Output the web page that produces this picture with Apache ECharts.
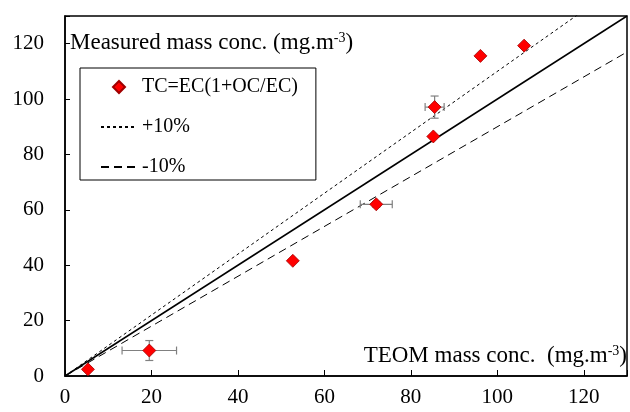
<!DOCTYPE html>
<html>
<head>
<meta charset="utf-8">
<script src="https://cdn.jsdelivr.net/npm/echarts@6/dist/echarts.min.js"></script>
<style>
  html, body { margin: 0; padding: 0; background: #fff; }
  #main { width: 630px; height: 412px; }
</style>
</head>
<body>
<div id="main"></div>
<script>
// TEOM vs measured (TC = EC(1+OC/EC))
var teom = [5.3, 19.5, 52.7, 72.0, 85.2, 85.5, 96.1, 106.2];
var measured = [2.4, 9.2, 41.6, 62.0, 86.5, 97.1, 115.6, 119.3];
var xErr = [0, 6.3, 0, 3.7, 0, 2.2, 0, 0];
var yErr = [0, 3.6, 0, 1.0, 0, 4.0, 0, 0];
var xTicks = [0, 20, 40, 60, 80, 100, 120];
var yTicks = [0, 20, 40, 60, 80, 100, 120];
var lineEnds = { one: [[0, 0], [130, 130]], plus: [[0, 0], [130, 143]], minus: [[0, 0], [130, 117]] };

var font = 'Liberation Serif';
var chart = echarts.init(document.getElementById('main'));

var pts = [];
for (var i = 0; i < teom.length; i++) {
    pts.push([teom[i], measured[i]]);
}
var errData = [];
for (var j = 0; j < teom.length; j++) {
    if (xErr[j] > 0 || yErr[j] > 0) {
        errData.push([teom[j], measured[j], xErr[j], yErr[j]]);
    }
}

var titleRich = {
    n: { fontFamily: font, fontSize: 23, fill: '#000' },
    s: { fontFamily: font, fontSize: 14, fill: '#000', verticalAlign: 'top', padding: [0, 0, 10, 0] }
};

chart.setOption({
    animation: false,
    grid: {
        left: 65, top: 16, right: -7, bottom: 36,
        show: true, borderColor: '#000', borderWidth: 1.5
    },
    xAxis: {
        type: 'value', min: 0, max: 130, interval: 20,
        splitLine: { show: false },
        axisLine: { lineStyle: { color: '#000', width: 1.5 } },
        axisTick: { inside: true, length: 6, lineStyle: { color: '#000' } },
        axisLabel: { color: '#000', fontFamily: font, fontSize: 21, margin: 11,
            formatter: function (v) { return xTicks.indexOf(v) >= 0 ? String(v) : ''; } }
    },
    yAxis: {
        type: 'value', min: 0, max: 130, interval: 20,
        splitLine: { show: false },
        axisLine: { lineStyle: { color: '#000', width: 1.5 } },
        axisTick: { inside: true, length: 5, lineStyle: { color: '#000' } },
        axisLabel: { color: '#000', fontFamily: font, fontSize: 21, margin: 21,
            formatter: function (v) { return yTicks.indexOf(v) >= 0 ? String(v) : ''; } }
    },
    legend: {
        orient: 'vertical',
        left: 80, top: 68,
        data: [
            { name: 'TC=EC(1+OC/EC)', icon: 'path://M5,0L10,5L5,10L0,5Z' },
            { name: '+10%' },
            { name: '-10%' }
        ],
        symbolKeepAspect: true,
        borderColor: '#000', borderWidth: 1,
        padding: [9, 18, 3, 20],
        itemWidth: 36, itemHeight: 12, itemGap: 20,
        textStyle: { color: '#000', fontFamily: font, fontSize: 20 }
    },
    graphic: [
        {
            type: 'text', left: 70, top: 31,
            style: { text: '{n|Measured mass conc. (mg.m}{s|-3}{n|)}', rich: titleRich }
        },
        {
            type: 'text', right: 3, top: 344,
            style: { text: '{n|TEOM mass conc.  (mg.m}{s|-3}{n|)}', rich: titleRich }
        }
    ],
    series: [
        {
            name: '1:1', type: 'line', data: lineEnds.one, symbol: 'none',
            lineStyle: { color: '#000', width: 1.5 }, z: 2
        },
        {
            name: '+10%', type: 'line', data: lineEnds.plus, symbol: 'none',
            itemStyle: { color: 'rgba(0,0,0,0)' },
            lineStyle: { color: '#000', width: 1, type: [3, 3] }, z: 2
        },
        {
            name: '-10%', type: 'line', data: lineEnds.minus, symbol: 'none',
            itemStyle: { color: 'rgba(0,0,0,0)' },
            lineStyle: { color: '#000', width: 1, type: [8, 5] }, z: 2
        },
        {
            name: 'err', type: 'custom', data: errData, z: 3,
            renderItem: function (params, api) {
                var x = api.value(0), y = api.value(1), dx = api.value(2), dy = api.value(3);
                var cap = 4;
                var style = { stroke: '#808080', lineWidth: 1.2 };
                var kids = [];
                if (dx > 0) {
                    var l = api.coord([x - dx, y]), r = api.coord([x + dx, y]);
                    kids.push({ type: 'line', shape: { x1: l[0], y1: l[1], x2: r[0], y2: r[1] }, style: style });
                    kids.push({ type: 'line', shape: { x1: l[0], y1: l[1] - cap, x2: l[0], y2: l[1] + cap }, style: style });
                    kids.push({ type: 'line', shape: { x1: r[0], y1: r[1] - cap, x2: r[0], y2: r[1] + cap }, style: style });
                }
                if (dy > 0) {
                    var t = api.coord([x, y + dy]), b = api.coord([x, y - dy]);
                    kids.push({ type: 'line', shape: { x1: t[0], y1: t[1], x2: b[0], y2: b[1] }, style: style });
                    kids.push({ type: 'line', shape: { x1: t[0] - cap, y1: t[1], x2: t[0] + cap, y2: t[1] }, style: style });
                    kids.push({ type: 'line', shape: { x1: b[0] - cap, y1: b[1], x2: b[0] + cap, y2: b[1] }, style: style });
                }
                return { type: 'group', children: kids };
            }
        },
        {
            name: 'TC=EC(1+OC/EC)', type: 'scatter', data: pts,
            symbol: 'diamond', symbolSize: 13, z: 4, symbolKeepAspect: true,
            itemStyle: { color: '#ff0000', borderColor: '#a00000', borderWidth: 0.8, opacity: 1 }
        }
    ]
});
</script>
</body>
</html>
